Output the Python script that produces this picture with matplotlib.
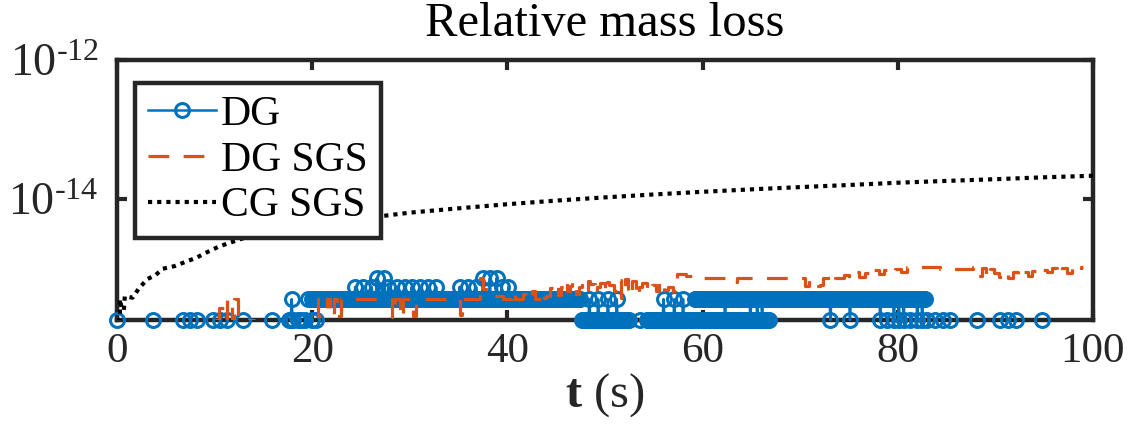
import numpy as np
import matplotlib
matplotlib.use("Agg")
import matplotlib.pyplot as plt
from matplotlib.ticker import FixedLocator, NullLocator, FixedFormatter

plt.rcParams['font.family'] = ['Liberation Serif', 'DejaVu Serif']
plt.rcParams['mathtext.fontset'] = 'custom'
plt.rcParams['mathtext.rm'] = 'Liberation Serif'
plt.rcParams['mathtext.it'] = 'Liberation Serif:italic'
plt.rcParams['mathtext.bf'] = 'Liberation Serif:bold'

# ---------------- data (values in units of the smallest non-zero loss) ----
unit = 1.76e-16
dt = 0.1

# DG: runs of consecutive samples at a constant level
dg_run_start = [20.0, 47.6, 54.3, 59.2]
dg_run_end = [47.4, 52.5, 66.8, 82.8]
dg_run_level = [2, 1, 1, 2]

# DG: short spikes (time, base level, peak level)
dg_spike_t = [17.9, 24.4, 25.2, 26.1, 26.6, 27.4, 27.8, 28.7, 29.5, 30.2, 31.0,
              31.9, 32.7, 35.1, 36.0, 36.8, 37.5, 38.2, 38.9, 39.4, 40.1,
              48.4, 49.3, 50.3, 51.2, 56.0, 57.1, 58.0,
              62.3, 64.9, 65.6, 66.1, 73.1, 75.1, 78.2, 79.6, 80.1, 80.6, 82.0, 82.5]
dg_spike_base = [1, 2, 2, 2, 2, 2, 2, 2, 2, 2, 2,
                 2, 2, 2, 2, 2, 2, 2, 2, 2, 2,
                 1, 1, 1, 1, 1, 1, 1,
                 2, 2, 2, 2, 2, 2, 2, 2, 2, 2, 2, 2]
dg_spike_peak = [2, 3, 3, 3, 4, 4, 3, 3, 3, 3, 3,
                 3, 3, 3, 3, 3, 4, 4, 4, 3, 3,
                 2, 2, 2, 2, 2, 2, 2,
                 1, 1, 1, 1, 1, 1, 1, 1, 1, 1, 1, 1]

# DG: isolated non-zero samples (neighbours are exactly zero)
dg_single_t = [0.0, 3.7, 6.8, 7.5, 8.2, 9.8, 10.6, 11.3, 12.9, 15.9, 17.6,
               18.5, 18.9, 19.3, 19.6, 20.0, 20.4, 53.6, 78.9, 81.3, 83.0,
               83.8, 84.6, 85.3, 88.1, 90.5, 91.3, 92.1, 94.8]
dg_single_level = [1, 1, 1, 1, 1, 1, 1, 1, 1, 1, 1,
                   1, 1, 1, 2, 1, 1, 1, 1, 1, 1,
                   1, 1, 1, 1, 1, 1, 1, 1]

# DG SGS (step samples, NaN = exactly zero)
sgs_t = [10.0, 10.5, 11.0, 11.3, 11.8, 12.0, 12.4, 14.1,
         20.5, 20.6, 21.5, 21.8, 22.2, 22.5, 22.9, 28.2, 28.5, 29.0, 29.3, 30.3,
         30.6, 35.1, 35.35, 37.2, 37.5, 38.0, 39.5, 40.5, 40.8, 41.6, 41.9, 42.5,
         42.8, 43.4, 43.7, 44.0, 44.4, 44.8, 45.2, 45.5, 45.8, 46.1, 46.4, 46.6,
         47.0, 47.3, 47.6, 48.0, 48.3, 48.5, 49.0, 49.2, 49.5, 50.0, 50.2, 50.4,
         50.9, 51.2, 51.6, 52.0, 52.4, 52.8, 53.2, 53.5, 53.8, 54.3, 54.8, 55.2,
         55.5, 55.7, 56.0, 56.5, 57.0, 57.4, 58.3, 59.3, 63.1, 63.5, 70.5, 70.9,
         71.4, 72.0, 72.3, 73.2, 73.6, 74.5, 75.0, 75.6, 76.0, 76.6, 77.1, 77.6,
         78.1, 78.6, 79.1, 79.7, 80.3, 80.9, 84.3, 87.7, 88.2, 88.6, 89.0, 89.4,
         89.9, 90.4, 90.9, 91.3, 91.8, 92.3, 92.8, 93.3, 93.8, 94.3, 94.8, 95.3,
         95.8, 96.3, 96.8, 97.3, 97.8, 98.3, 98.8, 99.0]
sgs_n = [1, 1.5, 1, 2, 1, 2, 1, np.nan,
         2, 1.15, 2, 1.15, 2, 1.15, 2, 1.1, 2, 1.1, 2, 1.15,
         2, 1.2, 2, 4.0, 2.8, 2.2, 2.0, 2.6, 2.0, 2.4, 2.0, 2.6,
         2.0, 2.5, 2.1, 2.2, 2.9, 3.4, 2.3, 3.0, 3.8, 2.6, 3.1, 3.6,
         2.4, 3.0, 3.5, 2.7, 3.6, 3.3, 2.4, 3.0, 3.4, 2.5, 3.5, 3.2,
         2.6, 3.8, 2.1, 3.9, 2.3, 3.7, 2.2, 3.0, 3.4, 2.6, 3.2, 2.6,
         3.6, 3.3, 2.7, 3.0, 2.6, 4.6, 4.3, 4.0, 3.5, 4.0, 3.1, 3.8,
         3.1, 3.2, 4.0, 3.4, 4.1, 4.5, 4.0, 5.0, 4.2, 4.8, 4.3, 5.2,
         4.6, 5.3, 4.8, 5.4, 5.0, 5.8, 5.5, 5.9, 4.3, 5.6, 4.2, 5.5,
         4.8, 4.2, 5.0, 4.1, 4.9, 4.2, 5.0, 4.3, 5.1, 4.6, 5.3, 4.9,
         5.6, 4.6, 5.7, 4.8, 5.9, 5.2, 5.8, 5.8]

# CG SGS
cg_t = [0.0, 0.3, 0.3, 0.5, 0.7, 0.8, 1.6, 2.2, 3.1, 3.9, 4.7, 5.9, 7.0, 8.2,
        9.0, 10.5, 12.9, 15.0, 20.0, 26.6, 30.0, 35.0, 40.0, 45.0, 50.0, 55.0,
        60.0, 65.0, 70.0, 75.0, 80.0, 85.0, 90.0, 95.0, 100.0]
cg_n = [1.0, 1.0, 2.0, 1.4, 1.4, 2.2, 2.1, 2.8, 3.9, 4.4, 5.5, 6.0, 6.9, 8.0,
        9.2, 11.6, 15.1, 18.0, 24.0, 31.0, 35.5, 41.0, 47.0, 53.0, 59.0, 65.0,
        71.0, 77.0, 83.0, 89.0, 96.0, 102.0, 108.0, 115.0, 121.0]

series_labels = ['DG', 'DG SGS', 'CG SGS']
xticks = [0, 20, 40, 60, 80, 100]
yticks = [1e-16, 1e-14, 1e-12]
ytick_labels = [r'$10^{\text{-}16}$', r'$10^{\text{-}14}$', r'$10^{\text{-}12}$']

# ---------------- build DG polyline (NaN separates pieces) ----------------
xs, ys = [], []
def add_piece(t, v):
    xs.extend(list(t) + [np.nan])
    ys.extend(list(v) + [np.nan])

for s, e, l in zip(dg_run_start, dg_run_end, dg_run_level):
    tt = np.arange(s, e + dt / 2, dt)
    add_piece(tt, [l] * len(tt))
for t, b, p in zip(dg_spike_t, dg_spike_base, dg_spike_peak):
    add_piece([t - dt, t, t + dt], [b, p, b])
for t, l in zip(dg_single_t, dg_single_level):
    add_piece([t], [l])

dg_x = np.array(xs, dtype=float)
dg_y = np.array(ys, dtype=float) * unit

# ---------------- plot ----------------
fig = plt.figure(figsize=(11.32, 4.42), dpi=100)
ax = fig.add_axes([117 / 1132, 1 - 320 / 442, (1093 - 117) / 1132, (320 - 60) / 442])

blue = '#0072BD'
orange = '#D95319'

l1, = ax.plot(dg_x, dg_y, '-o', color=blue, lw=1.8, ms=10, mew=2.2,
              mfc='none', clip_on=False, zorder=3, label=series_labels[0])
l2, = ax.plot(sgs_t, np.array(sgs_n) * unit, color=orange, lw=2.3,
              drawstyle='steps-post', dashes=(6.5, 4.5), zorder=4,
              label=series_labels[1])
l3, = ax.plot(cg_t, np.array(cg_n) * unit, color='black', lw=3.0,
              dashes=(1.0, 1.2), zorder=5, label=series_labels[2])

ax.set_yscale('log')
ax.set_xlim(0, 100)
ax.set_ylim(unit, 1e-12)
ax.xaxis.set_major_locator(FixedLocator(xticks))
ax.yaxis.set_major_locator(FixedLocator(yticks))
ax.yaxis.set_major_formatter(FixedFormatter(ytick_labels))
ax.yaxis.set_minor_locator(NullLocator())
ax.xaxis.set_minor_locator(NullLocator())

axcol = '#262626'
for sp in ax.spines.values():
    sp.set_linewidth(3.2)
    sp.set_color(axcol)
    sp.set_zorder(2.5)
ax.tick_params(axis='both', which='major', direction='in', length=7, width=3.0,
               color=axcol, labelcolor=axcol, labelsize=31, top=True, right=True,
               pad=9)
ax.tick_params(axis='y', labelsize=33, pad=13)

ax.set_title('Relative mass loss', fontsize=35, pad=17, color='black')
ax.set_xlabel(r'$\mathbf{t}$ (s)', fontsize=35, labelpad=0, color=axcol)

leg = ax.legend(handles=[l1, l2, l3], loc='upper left',
                bbox_to_anchor=(18 / 976, 1 - 23 / 260), fontsize=30,
                frameon=True, fancybox=False, borderaxespad=0,
                handlelength=1.65, handletextpad=0.12, labelspacing=0.17,
                borderpad=0.3)
fr = leg.get_frame()
fr.set_edgecolor(axcol)
fr.set_linewidth(3.2)
fr.set_facecolor('white')
fr.set_alpha(1)
leg.set_zorder(10)

fig.savefig('out.png', dpi=100)
